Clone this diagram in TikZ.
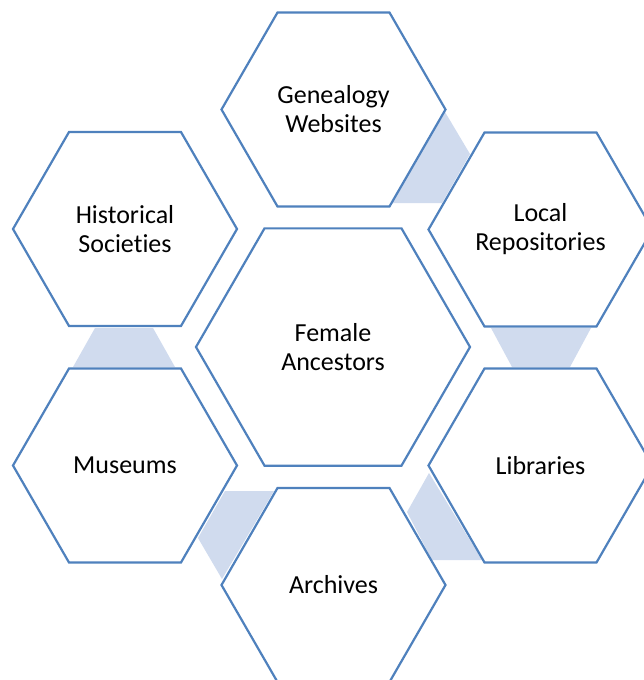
\documentclass[tikz,border=0pt]{standalone}
\usepackage{fontspec}
\setmainfont[Ligatures=NoCommon]{Carlito}
\usetikzlibrary{shapes.geometric}
\definecolor{hexline}{RGB}{79,129,189}
\definecolor{hexfill}{RGB}{208,219,238}
\begin{document}
\begin{tikzpicture}[x=1pt,y=-1pt,
  hexbox/.style={regular polygon, regular polygon sides=6,
    minimum size=224pt, inner sep=0pt, outer sep=0pt, draw=hexline, line width=2.2pt, fill=white,
    align=center, font=\fontsize{26}{29}\selectfont},
  bighex/.style={hexbox, minimum size=274pt},
  link/.style={fill=hexfill, draw=none}]
\useasboundingbox (0,0) rectangle (644,680);
% connector bands
\fill[link] (445,112) -- (470,154) -- (442,203) -- (392,203) -- cycle;
\fill[link] (95,328) -- (153,328) -- (175,367) -- (73,367) -- cycle;
\fill[link] (491,328) -- (591,328) -- (570,367) -- (512,367) -- cycle;
\fill[link] (429,473) -- (482,560) -- (432,560) -- (407,512) -- cycle;
\fill[link] (225,491) -- (274,491) -- (222,579) -- (198,538) -- cycle;
% hexagons
\node[bighex] (center) at (333,347) {Female\\Ancestors};
\node[hexbox] (gen) at (333.5,109.5) {Genealogy\\Websites};
\node[hexbox] (hist) at (125,229) {Historical\\Societies};
\node[hexbox] (local) at (540.5,229.5) {Local\\Repositories};
\node[hexbox] (mus) at (125,465.5) {Museums};
\node[hexbox] (lib) at (540.5,465.5) {Libraries};
\node[hexbox] (arch) at (333.5,585) {Archives};
\end{tikzpicture}
\end{document}
